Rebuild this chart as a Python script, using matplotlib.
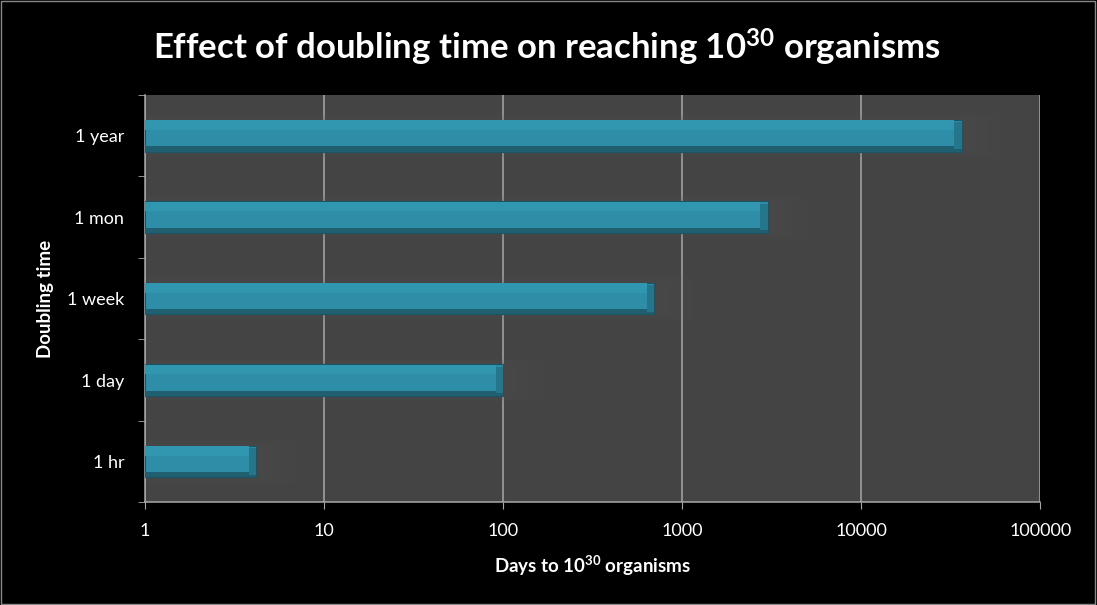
"""Horizontal log-scale bar chart: days needed to reach 10^30 organisms."""

import matplotlib

matplotlib.use("Agg")
import matplotlib.pyplot as plt
from matplotlib.patches import Rectangle

doubling_times = ["1 hr", "1 day", "1 week", "1 mon", "1 year"]
days_to_target = [4.17, 100, 700, 3000, 36500]
x_ticks = [1, 10, 100, 1000, 10000, 100000]
x_tick_labels = ["1", "10", "100", "1000", "10000", "100000"]

plt.rcParams["font.family"] = ["Lato", "DejaVu Sans"]
plt.rcParams["mathtext.fontset"] = "custom"
plt.rcParams["mathtext.rm"] = "Lato"
plt.rcParams["mathtext.bf"] = "Lato:bold"

fig = plt.figure(figsize=(10.97, 6.05), dpi=100, facecolor="black")
ax = fig.add_axes([0.1322, 0.170, 0.816, 0.673])
ax.set_facecolor("#444444")

ypos = list(range(len(doubling_times)))
bar_h = 0.39
bevel = 1.1

# soft shadow
for grow, alpha in [(0.16, 0.05), (0.10, 0.07), (0.05, 0.09)]:
    ax.barh(ypos, [v * (1 + grow * 4) - 1 for v in days_to_target], left=1,
            height=bar_h + grow, color="#5a5a5a", alpha=alpha, zorder=2)

# main bar
ax.barh(ypos, [v - 1 for v in days_to_target], left=1, height=bar_h,
        color="#2e8ea8", edgecolor="#1b5565", linewidth=0.8, zorder=3)
# top highlight
ax.barh([y + bar_h * 0.33 for y in ypos], [v / bevel - 1 for v in days_to_target],
        left=1, height=bar_h * 0.3, color="#3196b0", linewidth=0, zorder=4)
# bottom dark strip
ax.barh([y - bar_h * 0.42 for y in ypos], [v - 1 for v in days_to_target],
        left=1, height=bar_h * 0.16, color="#1f5f70", linewidth=0, zorder=4)
# right bevel
ax.barh(ypos, [v - v / bevel for v in days_to_target],
        left=[v / bevel for v in days_to_target], height=bar_h * 0.84,
        color="#24768c", linewidth=0, zorder=4)

ax.set_xscale("log")
ax.set_xlim(1, 100000)
ax.set_ylim(-0.5, len(doubling_times) - 0.5)
ax.set_xticks(x_ticks)
ax.set_xticklabels(x_tick_labels)
ax.minorticks_off()
ax.xaxis.grid(True, color="#a8a8a8", linewidth=1.1, zorder=1)
ax.set_axisbelow(True)

ax.set_yticks(ypos)
ax.set_yticklabels(doubling_times)
ax.set_yticks([y - 0.5 for y in ypos] + [len(ypos) - 0.5], minor=True)
ax.tick_params(axis="y", which="major", length=0, pad=15, labelsize=13,
               labelcolor="white")
ax.tick_params(axis="y", which="minor", length=5, color="#a8a8a8",
               direction="out")
ax.tick_params(axis="x", which="major", length=5, color="#a8a8a8",
               labelsize=13, labelcolor="white", pad=10)

for side in ["top", "right"]:
    ax.spines[side].set_visible(False)
for side in ["left", "bottom"]:
    ax.spines[side].set_color("#a8a8a8")
    ax.spines[side].set_linewidth(1.1)

ax.set_xlabel(r"Days to $\mathbf{10^{30}}$ organisms", color="white", fontsize=13.5,
              fontweight="bold", labelpad=11)
ax.set_ylabel("Doubling time", color="white", fontsize=13.5,
              fontweight="bold", labelpad=9)

fig.text(0.499, 0.922, r"Effect of doubling time on reaching $\mathbf{10^{30}}$ organisms",
         color="white", fontsize=25, fontweight="bold", ha="center", va="center")

fig.patches.append(Rectangle((0.001, 0.002), 0.997, 0.996, transform=fig.transFigure,
                             fill=False, edgecolor="#888888", linewidth=1))

fig.savefig("out.png", dpi=100, facecolor="black")
